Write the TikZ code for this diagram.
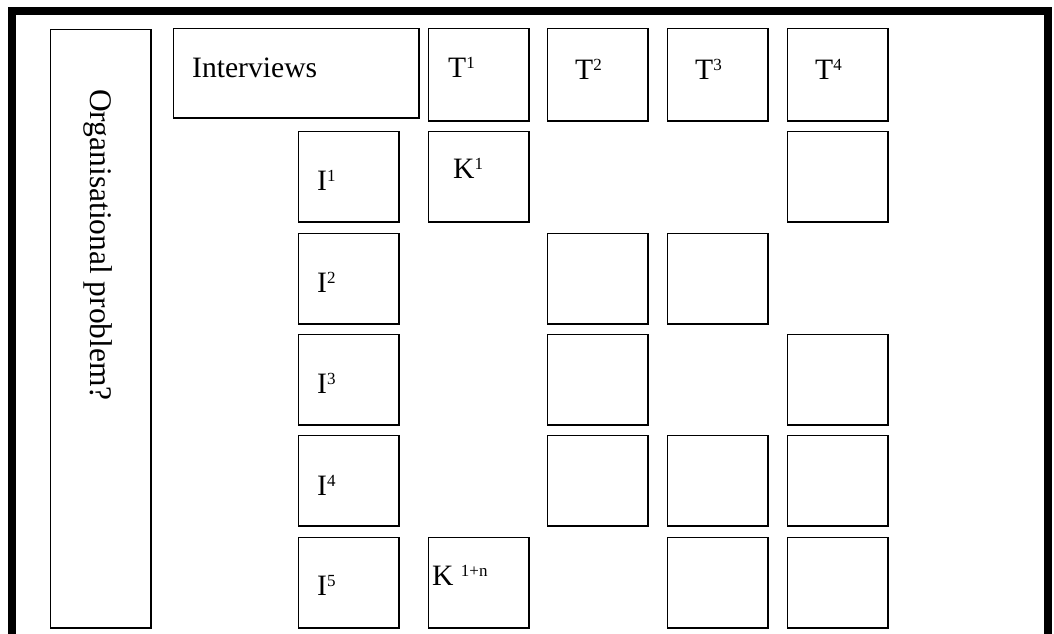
\documentclass[tikz,border=0pt]{standalone}
\usepackage{fontspec}
\setmainfont{Liberation Serif}
\newcommand\supx[1]{\raisebox{0.3em}{\fontsize{17}{17}\selectfont #1}}
\begin{document}
\begin{tikzpicture}[x=1pt,y=-1pt,
  cell/.style={draw,line width=1.4pt,anchor=north west,inner sep=0pt,minimum width=100.5pt,minimum height=90.5pt},
  lbl/.style={anchor=base west,inner sep=0pt,font=\fontsize{29.6}{30}\selectfont},
  frame/.style={line width=8pt}]
\path[use as bounding box] (0,0) rectangle (1054,633);
\clip (0,0) rectangle (1054,633);
\draw[frame] (12,660) -- (12,10.5) -- (1048,10.5) -- (1048,660);
% left box and header row
\node[cell,minimum height=598.5pt] (org) at (49.7,28.7) {};
\node[cell,minimum width=245.5pt,minimum height=89.5pt] (intv) at (172.7,27.7) {};
\node[cell,minimum height=92.5pt] (t1) at (427.7,27.7) {};
\node[cell,minimum height=92.5pt] (t2) at (546.7,27.7) {};
\node[cell,minimum height=92.5pt] (t3) at (666.7,27.7) {};
\node[cell,minimum height=92.5pt] (t4) at (786.7,27.7) {};
% interview column
\node[cell] (i1) at (297.7,130.7) {};
\node[cell] (i2) at (297.7,232.7) {};
\node[cell] (i3) at (297.7,333.7) {};
\node[cell] (i4) at (297.7,434.7) {};
\node[cell] (i5) at (297.7,536.7) {};
% matrix cells
\node[cell] (k1) at (427.7,130.7) {};
\node[cell] (r1c4) at (786.7,130.7) {};
\node[cell] (r2c2) at (546.7,232.7) {};
\node[cell] (r2c3) at (666.7,232.7) {};
\node[cell] (r3c2) at (546.7,333.7) {};
\node[cell] (r3c4) at (786.7,333.7) {};
\node[cell] (r4c2) at (546.7,434.7) {};
\node[cell] (r4c3) at (666.7,434.7) {};
\node[cell] (r4c4) at (786.7,434.7) {};
\node[cell] (k5) at (427.7,536.7) {};
\node[cell] (r5c3) at (666.7,536.7) {};
\node[cell] (r5c4) at (786.7,536.7) {};
% labels
\node[lbl,font=\fontsize{31.5}{32}\selectfont,rotate=-90] (lorg) at (90,89) {Organisational problem?};
\node[lbl] (lintv) at (192,77) {Interviews};
\node[lbl] (lt1) at (448,77) {T\supx{1}};
\node[lbl] (lt2) at (575,79) {T\supx{2}};
\node[lbl] (lt3) at (695,79) {T\supx{3}};
\node[lbl] (lt4) at (815,79) {T\supx{4}};
\node[lbl] (lk1) at (453,178) {K\supx{1}};
\node[lbl] (li1) at (317,190) {I\supx{1}};
\node[lbl] (li2) at (317,292) {I\supx{2}};
\node[lbl] (li3) at (317,393) {I\supx{3}};
\node[lbl] (li4) at (317,495) {I\supx{4}};
\node[lbl] (li5) at (317,595) {I\supx{5}};
\node[lbl] (lk5) at (432,585) {K \supx{1+n}};
\end{tikzpicture}
\end{document}
